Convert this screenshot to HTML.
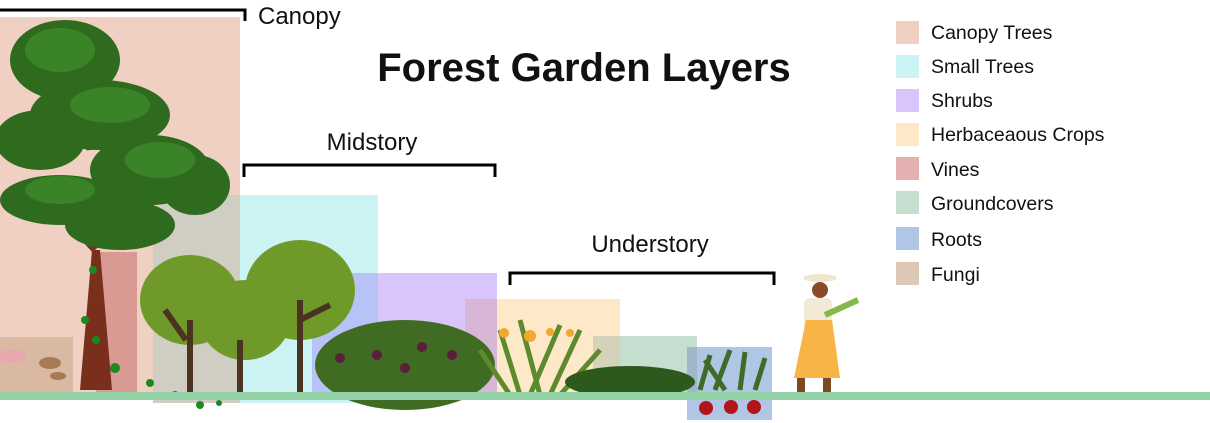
<!DOCTYPE html>
<html><head><meta charset="utf-8"><style>
html,body{margin:0;padding:0;background:#fff;width:1210px;height:423px;overflow:hidden}
svg{display:block}
text{font-family:"Liberation Sans",sans-serif;fill:#111}
</style></head><body>
<svg width="1210" height="423" viewBox="0 0 1210 423" xmlns="http://www.w3.org/2000/svg">
<rect x="0" y="17" width="240" height="380" fill="#efd0c3"/>
<rect x="96" y="252" width="41" height="145" fill="#d99a94"/>
<rect x="0" y="337" width="73" height="60" fill="#d9b9a2"/>
<rect x="153" y="195" width="87" height="208" fill="#d0cdc3"/>
<rect x="240" y="195" width="138" height="208" fill="#ccf3f3"/>
<rect x="312" y="273" width="66" height="122" fill="#b7c3f7"/>
<rect x="378" y="273" width="119" height="122" fill="#d9c5fb"/>
<rect x="465" y="299" width="32" height="96" fill="#d8b6d6"/>
<rect x="497" y="299" width="123" height="96" fill="#fde8c8"/>
<rect x="593" y="336" width="27" height="59" fill="#d4d2b8"/>
<rect x="620" y="336" width="77" height="59" fill="#c6ded0"/>
<rect x="687" y="347" width="85" height="73" fill="#b1c6e5"/>
<rect x="687" y="347" width="10" height="48" fill="#9fb7c8"/>

<path d="M80 390 L92 250 L100 250 L112 390 Z" fill="#7a2e1c"/>
<path d="M95 250 L40 190 M95 220 L190 190 M90 150 L80 60" stroke="#6b3a1e" stroke-width="7" fill="none"/>
<g fill="#2f6b1e">
<ellipse cx="65" cy="60" rx="55" ry="40"/>
<ellipse cx="100" cy="115" rx="70" ry="35"/>
<ellipse cx="40" cy="140" rx="45" ry="30"/>
<ellipse cx="150" cy="170" rx="60" ry="35"/>
<ellipse cx="60" cy="200" rx="60" ry="25"/>
<ellipse cx="120" cy="225" rx="55" ry="25"/>
<ellipse cx="195" cy="185" rx="35" ry="30"/>
</g>
<g fill="#3f8a2a" opacity=".8">
<ellipse cx="60" cy="50" rx="35" ry="22"/><ellipse cx="110" cy="105" rx="40" ry="18"/><ellipse cx="160" cy="160" rx="35" ry="18"/><ellipse cx="60" cy="190" rx="35" ry="14"/>
</g>
<g fill="#6f9a2a">
<ellipse cx="190" cy="300" rx="50" ry="45"/>
<ellipse cx="245" cy="320" rx="45" ry="40"/>
<ellipse cx="300" cy="290" rx="55" ry="50"/>
</g>
<path d="M190 395 V320 M186 340 L165 310 M240 395 V340 M300 395 V300 M300 320 L330 305" stroke="#4a3320" stroke-width="6" fill="none"/>
<ellipse cx="405" cy="365" rx="90" ry="45" fill="#3f6b22"/>
<g fill="#5a1f3a"><circle cx="340" cy="358" r="5"/><circle cx="377" cy="355" r="5"/><circle cx="422" cy="347" r="5"/><circle cx="405" cy="368" r="5"/><circle cx="452" cy="355" r="5"/></g>
<path d="M520 395 L500 330 M530 395 L560 325 M550 395 L580 330 M540 395 L520 320 M560 395 L600 350 M510 395 L480 350" stroke="#5e8a2e" stroke-width="5" fill="none"/>
<g fill="#f0a830"><circle cx="504" cy="333" r="5"/><circle cx="530" cy="336" r="6"/><circle cx="550" cy="332" r="4"/><circle cx="570" cy="333" r="4"/></g>
<ellipse cx="630" cy="382" rx="65" ry="16" fill="#2d5a1c"/>
<path d="M700 390 L710 355 M715 390 L730 350 M740 390 L745 352 M755 390 L765 358 M725 390 L705 360" stroke="#3e6b27" stroke-width="5" fill="none"/>
<g fill="#b01616"><circle cx="706" cy="408" r="7"/><circle cx="731" cy="407" r="7"/><circle cx="754" cy="407" r="7"/></g>
<g fill="#1b8a20"><circle cx="93" cy="270" r="4"/><circle cx="85" cy="320" r="4"/><circle cx="96" cy="340" r="4"/><circle cx="115" cy="368" r="5"/><circle cx="150" cy="383" r="4"/><circle cx="175" cy="395" r="4"/><circle cx="200" cy="405" r="4"/><circle cx="219" cy="403" r="3"/></g>
<g fill="#e7a8ad"><ellipse cx="12" cy="356" rx="14" ry="7"/></g>
<g fill="#a87a52"><ellipse cx="50" cy="363" rx="11" ry="6"/><ellipse cx="58" cy="376" rx="8" ry="4"/></g>
<circle cx="820" cy="290" r="8" fill="#8a4a2a"/>
<ellipse cx="820" cy="278" rx="17" ry="4" fill="#efe6cc"/>
<rect x="804" y="298" width="28" height="32" rx="6" fill="#f2ead6"/>
<path d="M806 320 L832 320 L840 378 L794 378 Z" fill="#f7b548"/>
<rect x="797" y="378" width="8" height="18" fill="#7a4a24"/><rect x="823" y="378" width="8" height="18" fill="#7a4a24"/>
<path d="M825 315 L858 300" stroke="#86b84a" stroke-width="6"/>
<rect x="0" y="392" width="1210" height="8" fill="#92d0a6"/>
<path d="M0 10 H245 V21" stroke="#000" stroke-width="3" fill="none"/>
<path d="M244 177 V165 H495 V177" stroke="#000" stroke-width="3" fill="none"/>
<path d="M510 285 V273 H774 V285" stroke="#000" stroke-width="3" fill="none"/>
<text x="258" y="24" font-size="24">Canopy</text>
<text x="372" y="150" font-size="24" text-anchor="middle">Midstory</text>
<text x="650" y="252" font-size="24" text-anchor="middle">Understory</text>
<text x="584" y="81" font-size="40" font-weight="bold" text-anchor="middle">Forest Garden Layers</text>
<g font-size="19.5">
<rect x="896" y="21" width="23" height="23" fill="#efd0c3"/><text x="931" y="39">Canopy Trees</text>
<rect x="896" y="55" width="23" height="23" fill="#ccf3f3"/><text x="931" y="73">Small Trees</text>
<rect x="896" y="89" width="23" height="23" fill="#d9c5fb"/><text x="931" y="107">Shrubs</text>
<rect x="896" y="123" width="23" height="23" fill="#fde8c8"/><text x="931" y="141">Herbaceaous Crops</text>
<rect x="896" y="157" width="23" height="23" fill="#e5b1b0"/><text x="931" y="176">Vines</text>
<rect x="896" y="191" width="23" height="23" fill="#c6ded0"/><text x="931" y="210">Groundcovers</text>
<rect x="896" y="227" width="23" height="23" fill="#b1c6e5"/><text x="931" y="246">Roots</text>
<rect x="896" y="262" width="23" height="23" fill="#dcc8b4"/><text x="931" y="281">Fungi</text>
</g>
</svg>
</body></html>
